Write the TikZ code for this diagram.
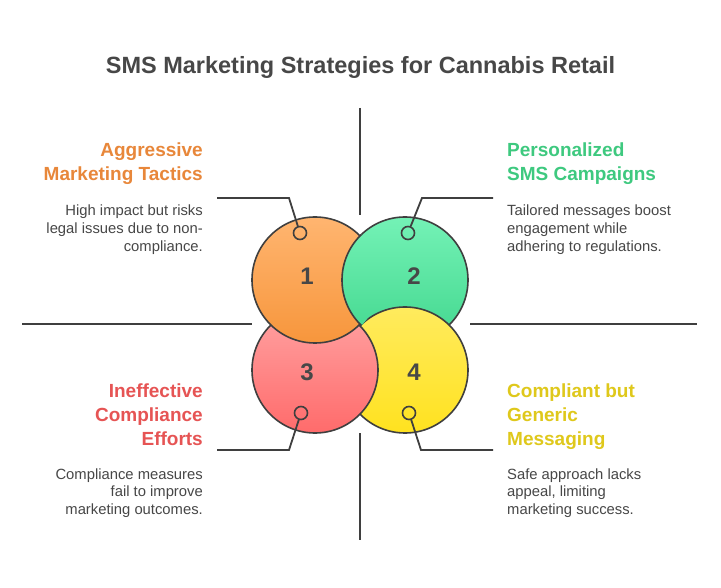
\documentclass[tikz,border=0pt]{standalone}
\usepackage{fontspec}
\setmainfont{Liberation Sans}
\definecolor{edge}{HTML}{3F3F3F}
\definecolor{ink}{HTML}{474747}
\definecolor{o1}{HTML}{FFB570}
\definecolor{o2}{HTML}{F7963C}
\definecolor{g1}{HTML}{74F2B6}
\definecolor{g2}{HTML}{42D78E}
\definecolor{r1}{HTML}{FFA3A3}
\definecolor{r2}{HTML}{FF6B6B}
\definecolor{y1}{HTML}{FFEB5E}
\definecolor{y2}{HTML}{FFE21F}
\definecolor{orangeH}{HTML}{E8873A}
\definecolor{greenH}{HTML}{3EC97F}
\definecolor{redH}{HTML}{E65454}
\definecolor{yellowH}{HTML}{DFC81B}
\begin{document}
\begin{tikzpicture}[x=1pt,y=-1pt,
  bubble/.style={circle, draw=edge, line width=1.6pt, minimum size=126pt, inner sep=0pt},
  num/.style={font=\fontsize{24}{24}\selectfont\bfseries, text=ink, inner sep=0pt},
  dot/.style={circle, draw=edge, line width=1.6pt, minimum size=13pt, inner sep=0pt},
  leader/.style={draw=edge, line width=1.8pt},
  axisline/.style={draw=edge, line width=1.6pt},
  head/.style={font=\fontsize{19}{24}\selectfont\bfseries, inner sep=0pt},
  body/.style={font=\fontsize{14.8}{17.7}\selectfont, text=ink, inner sep=0pt},
  title/.style={font=\fontsize{23.5}{28}\selectfont\bfseries, text=ink, inner sep=0pt}]
\useasboundingbox[fill=white] (0,0) rectangle (721,588);

\node[title, anchor=base] (t) at (360.5,74) {SMS Marketing Strategies for Cannabis Retail};

% axes
\coordinate (a1) at (360,108); \coordinate (a2) at (360,215);
\coordinate (a3) at (360,433); \coordinate (a4) at (360,540);
\coordinate (a5) at (22,324);  \coordinate (a6) at (252,324);
\coordinate (a7) at (470,324); \coordinate (a8) at (697,324);
\draw[axisline] (a1) -- (a2);
\draw[axisline] (a3) -- (a4);
\draw[axisline] (a5) -- (a6);
\draw[axisline] (a7) -- (a8);

% circles
\node[bubble, top color=g1, bottom color=g2] (c2) at (405,280) {};
\node[bubble, top color=y1, bottom color=y2] (c4) at (405,370) {};
\node[bubble, top color=r1, bottom color=r2] (c3) at (315,370) {};
\node[bubble, top color=o1, bottom color=o2] (c1) at (315,280) {};
\begin{scope}
\clip (c1.center) circle[radius=65];
\node[bubble, top color=g1, bottom color=g2] (c2top) at (c2.center) {};
\end{scope}

\node[num] (n1) at (307,276) {1};
\node[num] (n2) at (414,276) {2};
\node[num] (n3) at (307,372) {3};
\node[num] (n4) at (414,372) {4};

% dots and leaders
\node[dot] (d1) at (300,233) {};
\node[dot] (d2) at (408,233) {};
\node[dot] (d3) at (301,413) {};
\node[dot] (d4) at (409,413) {};
\coordinate (k1) at (289,198); \coordinate (e1) at (217,198);
\coordinate (k2) at (422,198); \coordinate (e2) at (493,198);
\coordinate (k3) at (289,450); \coordinate (e3) at (217,450);
\coordinate (k4) at (421,450); \coordinate (e4) at (493,450);
\draw[leader] (d1) -- (k1) -- (e1);
\draw[leader] (d2) -- (k2) -- (e2);
\draw[leader] (d3) -- (k3) -- (e3);
\draw[leader] (d4) -- (k4) -- (e4);

% texts (base anchor = baseline of the last line)
\node[head, text=orangeH, anchor=base east, align=right] (h1) at (203,181) {Aggressive\\Marketing Tactics};
\node[body, anchor=base east, align=right] (b1) at (203,251.4) {High impact but risks\\legal issues due to non-\\compliance.};
\node[head, text=greenH, anchor=base west, align=left] (h2) at (507,181) {Personalized\\SMS Campaigns};
\node[body, anchor=base west, align=left] (b2) at (507,251.4) {Tailored messages boost\\engagement while\\adhering to regulations.};
\node[head, text=redH, anchor=base east, align=right] (h3) at (203,445) {Ineffective\\Compliance\\Efforts};
\node[body, anchor=base east, align=right] (b3) at (203,514.4) {Compliance measures\\fail to improve\\marketing outcomes.};
\node[head, text=yellowH, anchor=base west, align=left] (h4) at (507,445) {Compliant but\\Generic\\Messaging};
\node[body, anchor=base west, align=left] (b4) at (507,514.4) {Safe approach lacks\\appeal, limiting\\marketing success.};
\end{tikzpicture}
\end{document}
